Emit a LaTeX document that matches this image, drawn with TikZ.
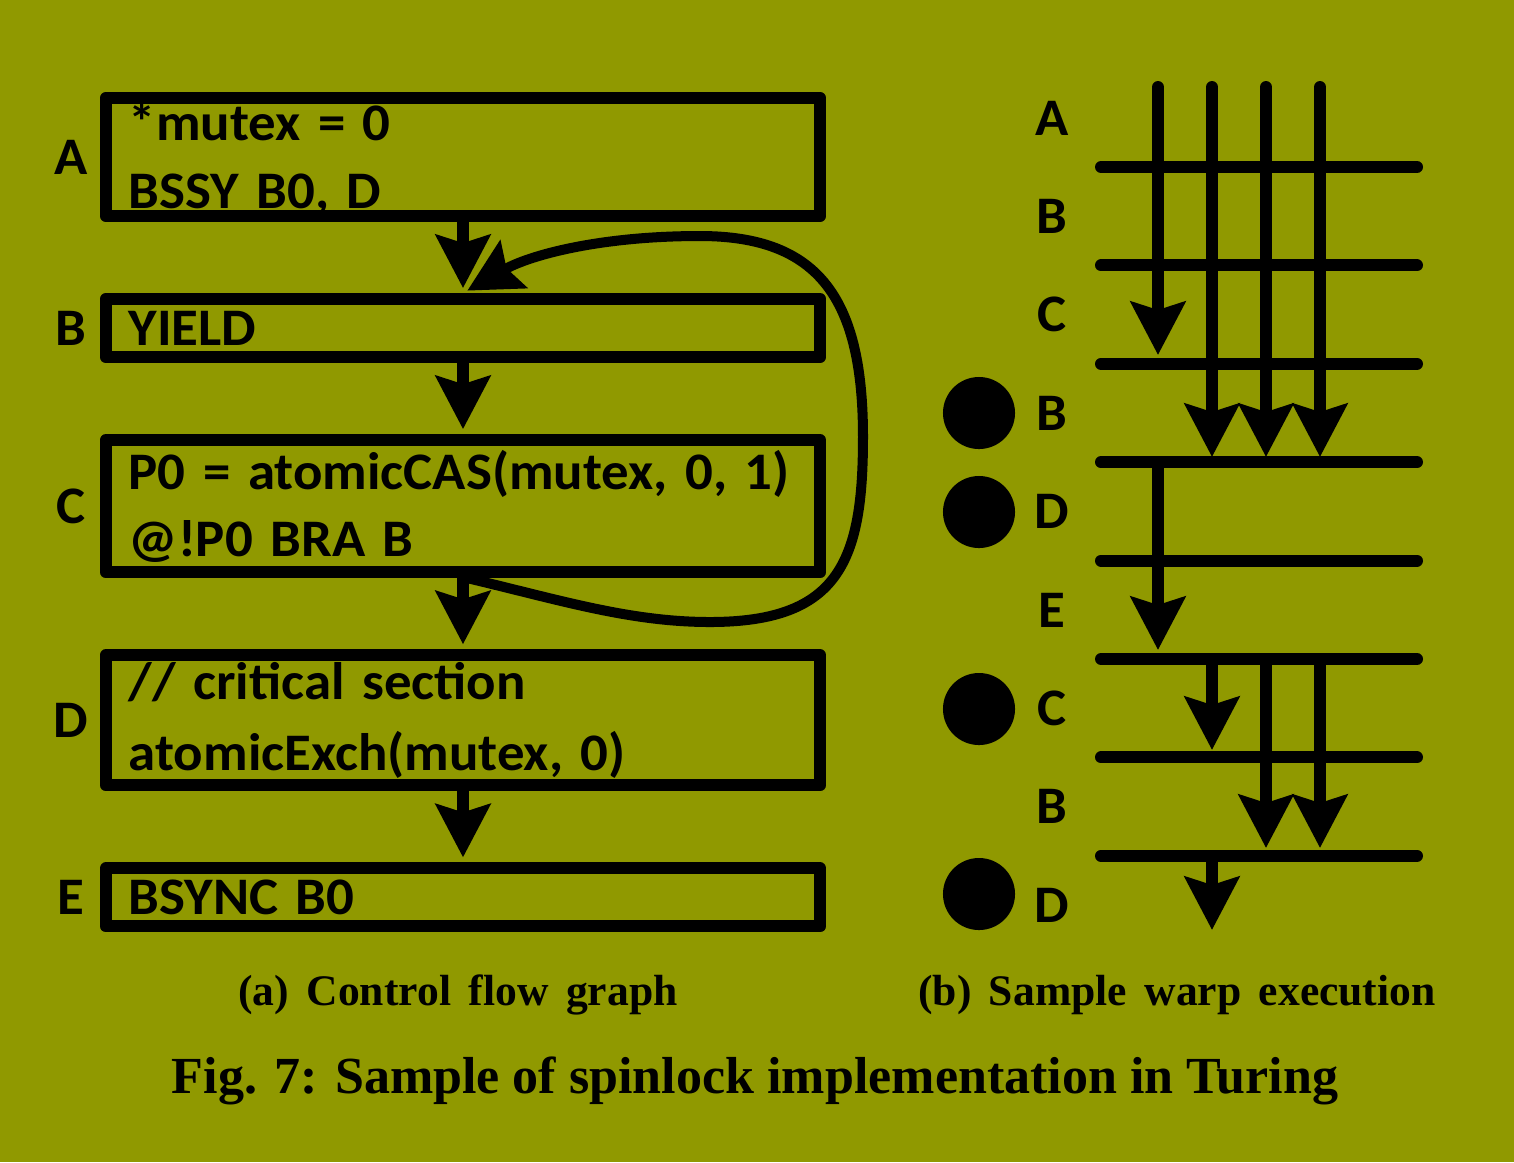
\documentclass[tikz,border=0pt]{standalone}
\usepackage{fontspec}
\usepackage{tikz}
\usetikzlibrary{arrows.meta,positioning}
\newfontfamily\codefont[FakeStretch=1.04]{Carlito}
\newfontfamily\capfont{Liberation Serif}
\definecolor{figBg}{HTML}{909900}

\begin{document}
\begin{tikzpicture}[x=0.01cm,y=-0.01cm,
  font=\codefont\bfseries\fontsize{15}{19.2}\selectfont,
  >={Stealth[length=0.53cm,width=0.54cm,inset=0.08cm]},
  node distance=0.71cm,
  blk/.style={draw,line width=0.12cm,line join=round,minimum width=7.14cm,
              inner xsep=0.23cm,inner ysep=0pt,text width=6.68cm,align=left},
  lbl/.style={inner sep=0pt,minimum width=0.4cm},
  fl/.style={->,line width=0.12cm,shorten >=0.05cm},
  fb/.style={->,line width=0.1cm,shorten >=0.05cm},
  sep/.style={line width=0.12cm,line cap=round},
  lane/.style={->,line width=0.12cm,line cap=round},
  captxt/.style={anchor=base,font=\capfont\bfseries\fontsize{12.4}{15}\selectfont}
]
\fill[figBg] (0,0) rectangle (1514,1162);
\useasboundingbox (0,0) rectangle (1514,1162);

% (a) control flow graph
\node[blk,minimum height=1.18cm] (A) at (463,157) {\rule{0pt}{0.42cm}*mutex = 0\\BSSY B0, D};
\node[blk,minimum height=0.58cm,below=of A] (B) {YIELD};
\node[blk,minimum height=1.32cm,below=of B] (C) {P0 = atomicCAS(mutex, 0, 1)\\@!P0 BRA B};
\node[blk,minimum height=1.30cm,below=of C] (D) {// critical section\\[0.03cm]atomicExch(mutex, 0)};
\node[blk,minimum height=0.58cm,below=of D] (E) {BSYNC B0};

\foreach \n in {A,B,C,D,E}
  \node[lbl,left=0.08cm of \n] (l\n) {\n};

\draw[fl] (A) -- (B);
\draw[fl] (B) -- (C);
\draw[fl] (C) -- (D);
\draw[fl] (D) -- (E);

% branch back to YIELD
\draw[fb] ([xshift=0.05cm]C.south) .. controls (560,600) and (630,622) .. (710,622)
  .. controls (840,622) and (863,560) .. (863,437)
  .. controls (863,300) and (820,236) .. (700,236)
  .. controls (600,236) and (530,255) .. (B.north);

% (b) warp execution
\foreach \l [count=\i from 0] in {A,B,C,B,D,E,C,B,D}
  \node[lbl] (w\i) at (1052,118+98.4*\i) {\l};
\foreach \i in {0,...,7}
  \draw[sep] (1101,167+98.4*\i) -- (1417,167+98.4*\i);
\foreach \x/\ya/\yb in {1158/87/355,1212/87/457,1266/87/457,1320/87/457,
                        1158/469/650,1212/664/750,1266/664/848,1320/664/848,1212/862/930}
  \draw[lane] (\x,\ya) -- (\x,\yb);
\foreach \y in {413,512,709,894}
  \fill (979,\y) circle[radius=0.36cm];

\node[captxt] (capa) at (458,1005) {\spaceskip=0.4em plus 0.1em\relax (a) Control flow graph};
\node[captxt] (capb) at (1177,1005) {\spaceskip=0.4em plus 0.1em\relax (b) Sample warp execution};
\node[captxt,font=\capfont\bfseries\fontsize{14.8}{18}\selectfont] (fig) at (755,1093)
  {Fig. 7: Sample of spinlock implementation in Turing};
\end{tikzpicture}
\end{document}
